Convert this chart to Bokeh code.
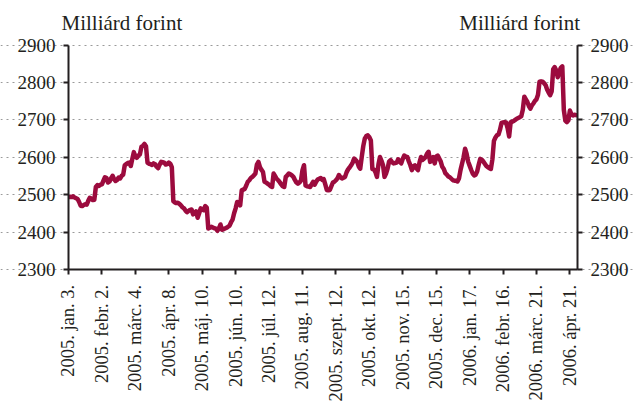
import math
from bokeh.plotting import figure
from bokeh.models import LinearAxis, FixedTicker, Label, Range1d
from bokeh.embed import file_html
from bokeh.resources import INLINE

# tick labels, one every 22 trading days
tick_labels = [
    "2005. jan. 3.", "2005. febr. 2.", "2005. márc. 4.", "2005. ápr. 8.",
    "2005. máj. 10.", "2005. jún. 10.", "2005. júl. 12.", "2005. aug. 11.",
    "2005. szept. 12.", "2005. okt. 12.", "2005. nov. 15.", "2005. dec. 15.",
    "2006. jan. 17.", "2006. febr. 16.", "2006. márc. 21.", "2006. ápr. 21.",
]
tick_step = 22

y_ticks = [2300, 2400, 2500, 2600, 2700, 2800, 2900]
y_unit = "Milliárd forint"

# daily values (milliárd forint)
values = [
    2494, 2495, 2494, 2496, 2493, 2491, 2489, 2481, 2471, 2470,
    2473, 2475, 2474, 2484, 2492, 2490, 2486, 2487, 2521, 2526,
    2524, 2527, 2528, 2538, 2547, 2545, 2533, 2536, 2544, 2551,
    2542, 2537, 2540, 2546, 2544, 2551, 2554, 2579, 2582, 2585,
    2586, 2577, 2596, 2614, 2603, 2599, 2605, 2608, 2628, 2631,
    2636, 2630, 2586, 2583, 2582, 2580, 2584, 2582, 2575, 2571,
    2581, 2588, 2587, 2586, 2581, 2582, 2586, 2583, 2574, 2483,
    2480, 2478, 2479, 2476, 2472, 2467, 2464, 2458, 2454, 2457,
    2460, 2461, 2448, 2450, 2456, 2439, 2451, 2464, 2461, 2459,
    2470, 2466, 2410, 2412, 2415, 2413, 2411, 2410, 2404, 2410,
    2421, 2407, 2408, 2410, 2412, 2415, 2418, 2427, 2434, 2451,
    2464, 2481, 2479, 2472, 2512, 2514, 2516, 2525, 2535, 2539,
    2545, 2548, 2552, 2557, 2581, 2588, 2574, 2567, 2561, 2535,
    2533, 2530, 2527, 2523, 2521, 2557, 2550, 2543, 2539, 2534,
    2528, 2523, 2521, 2548, 2552, 2557, 2555, 2552, 2548, 2540,
    2533, 2530, 2533, 2538, 2566, 2579, 2525, 2523, 2522, 2521,
    2528, 2535, 2527, 2535, 2541, 2543, 2545, 2540, 2542, 2528,
    2513, 2512, 2513, 2523, 2533, 2535, 2539, 2544, 2553, 2547,
    2544, 2546, 2548, 2560, 2568, 2573, 2579, 2586, 2597, 2593,
    2588, 2576, 2570, 2601, 2630, 2650, 2657, 2659, 2654, 2645,
    2569, 2568, 2561, 2548, 2581, 2601, 2591, 2579, 2548, 2557,
    2570, 2589, 2593, 2587, 2584, 2585, 2586, 2595, 2589, 2584,
    2596, 2605, 2602, 2601, 2589, 2579, 2566, 2576, 2579, 2571,
    2566, 2586, 2601, 2593, 2597, 2601, 2610, 2615, 2588, 2596,
    2601, 2584, 2602, 2605, 2597, 2589, 2575, 2569, 2558, 2554,
    2549, 2547, 2543, 2539, 2538, 2538, 2536, 2544, 2566, 2583,
    2600, 2623, 2610, 2589, 2578, 2567, 2557, 2552, 2554, 2563,
    2581, 2596, 2594, 2589, 2583, 2577, 2574, 2571, 2569, 2595,
    2644, 2653, 2659, 2661, 2674, 2692, 2693, 2694, 2693, 2678,
    2656, 2694, 2695, 2697, 2700, 2703, 2705, 2707, 2710, 2727,
    2762, 2755, 2748, 2737, 2730, 2739, 2744, 2751, 2755, 2767,
    2802, 2803, 2802, 2798, 2793, 2781, 2773, 2766, 2776, 2835,
    2841, 2832, 2814, 2828, 2839, 2843, 2727, 2698, 2694, 2699,
    2725, 2715, 2712, 2714, 2713, 2712,
]

x = list(range(len(values)))
x_last = len(values) - 1
tick_pos = [tick_step * k for k in range(len(tick_labels))]

# ---- layout (canvas pixels) ----
W, H = 634, 419
AX_L, AX_R = 68.0, 577.0      # left / right axis position
AX_T, AX_B = 44.5, 269.3      # top of value range / bottom axis
px_x = (AX_R - AX_L) / x_last
px_y = (AX_B - AX_T) / (y_ticks[-1] - y_ticks[0])
x_range = Range1d(0 - AX_L / px_x, x_last + (W - AX_R) / px_x)
y_range = Range1d(y_ticks[0] - (H - AX_B) / px_y, y_ticks[-1] + AX_T / px_y)

FONT = "Liberation Serif"
TXT = "#231f20"
RED = "#9c0b3e"

p = figure(width=W, height=H, output_backend="svg", toolbar_location=None,
           x_range=x_range, y_range=y_range, min_border=0)
p.title.visible = False
p.outline_line_color = None
p.background_fill_color = "white"
p.border_fill_color = "white"
p.xgrid.visible = False
p.ygrid.ticker = FixedTicker(ticks=y_ticks)
p.ygrid.bounds = (0, x_last)
p.ygrid.grid_line_color = "#9a9a9a"
p.ygrid.grid_line_dash = "2 4"
p.ygrid.grid_line_width = 1

p.line(x, values, line_color=RED, line_width=4.5, line_join="round")

left = p.yaxis[0]
left.fixed_location = 0
right = LinearAxis(fixed_location=x_last)
p.add_layout(right, "right")

for ax in (left, right):
    ax.ticker = FixedTicker(ticks=y_ticks)
    ax.bounds = (y_ticks[0], y_ticks[-1])
    ax.major_label_text_font = FONT
    ax.major_label_text_font_size = "19px"
    ax.major_label_text_color = TXT
    ax.axis_line_color = TXT
    ax.axis_line_width = 2
    ax.major_tick_line_color = TXT
    ax.major_tick_line_width = 2
    ax.major_tick_out = 5
    ax.major_tick_in = 0
    ax.minor_tick_out = 0
    ax.minor_tick_in = 0
    ax.major_label_standoff = 8

xa = p.xaxis[0]
xa.fixed_location = y_ticks[0]
xa.bounds = (0, x_last)
xa.ticker = FixedTicker(ticks=tick_pos)
xa.major_label_overrides = {t: lab for t, lab in zip(tick_pos, tick_labels)}
xa.major_label_orientation = math.pi / 2
xa.major_label_text_font = FONT
xa.major_label_text_font_size = "18.5px"
xa.major_label_text_color = TXT
xa.axis_line_color = TXT
xa.axis_line_width = 2
xa.major_tick_line_color = TXT
xa.major_tick_line_width = 2
xa.major_tick_out = 5
xa.major_tick_in = 0
xa.minor_tick_out = 0
xa.minor_tick_in = 0
xa.major_label_standoff = 10

p.add_layout(Label(x=0, y=y_ticks[-1], x_offset=-7, y_offset=22, text=y_unit,
                   text_font=FONT, text_font_size="21px", text_color=TXT,
                   text_align="left", text_baseline="alphabetic"))
p.add_layout(Label(x=x_last, y=y_ticks[-1], x_offset=2.5, y_offset=22, text=y_unit,
                   text_font=FONT, text_font_size="21px", text_color=TXT,
                   text_align="right", text_baseline="alphabetic"))

open("out.html", "w").write(file_html(p, INLINE))
